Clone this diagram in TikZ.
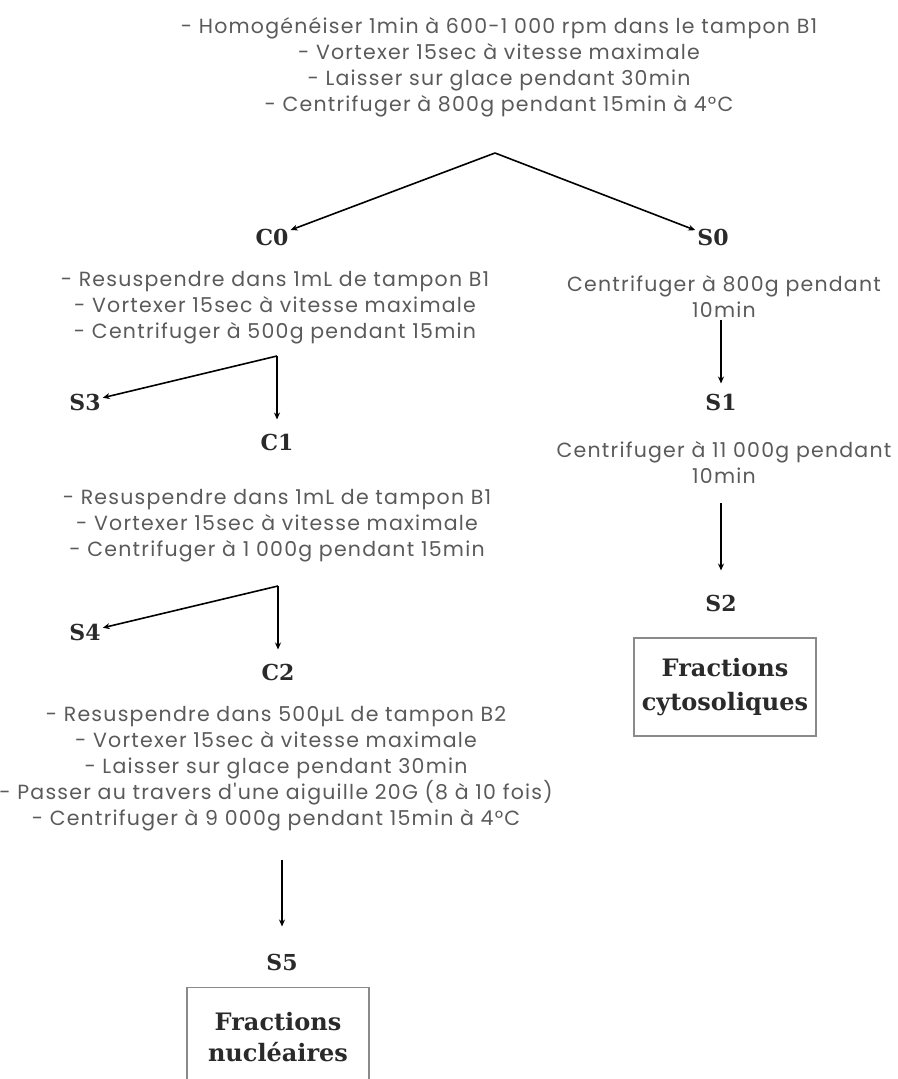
\documentclass[tikz,border=0pt]{standalone}
\usepackage{fontspec}
\usetikzlibrary{arrows.meta}
\newfontfamily\txtfont[LetterSpace=6]{Poppins}
\newfontfamily\lblfont{DejaVu Serif}
\definecolor{txtgray}{HTML}{5A5A5A}
\definecolor{lbldark}{HTML}{2A2A2A}
\definecolor{boxgray}{HTML}{8A8A8A}
\begin{document}
\begin{tikzpicture}[x=1pt,y=-1pt,
  steptext/.style={align=center,text=txtgray,font=\txtfont\fontsize{20.5}{26}\selectfont,inner sep=0pt},
  lbl/.style={text=lbldark,font=\lblfont\bfseries\fontsize{22}{24}\selectfont,inner sep=2pt},
  resbox/.style={draw=boxgray,line width=1.3pt,minimum width=182pt,align=center,text=lbldark,font=\lblfont\bfseries\fontsize{24}{34}\selectfont},
  arr/.style={-{Stealth[length=7pt,width=6pt]},line width=1.6pt,black}]
\useasboundingbox (0,0) rectangle (897,1079);
% top
\node[steptext] (top) at (499,67) {- Homogénéiser 1min à 600-1 000 rpm dans le tampon B1\\- Vortexer 15sec à vitesse maximale\\- Laisser sur glace pendant 30min\\- Centrifuger à 800g pendant 15min à 4°C};
\coordinate (apex) at (495,153);
\node[lbl] (C0) at (272,237) {C0};
\node[lbl] (S0) at (713,237) {S0};
\draw[arr] (apex) -- (C0);
\draw[arr] (apex) -- (S0);
% left branch
\node[steptext] (t0) at (275,308) {- Resuspendre dans 1mL de tampon B1\\- Vortexer 15sec à vitesse maximale\\- Centrifuger à 500g pendant 15min};
\coordinate (k1) at (277,356);
\node[lbl] (S3) at (85,402) {S3};
\node[lbl] (C1) at (277,442) {C1};
\draw[arr] (k1) -- (S3);
\draw[arr,shorten >=12pt] (k1) -- (C1);
\node[steptext] (t1) at (277,526) {- Resuspendre dans 1mL de tampon B1\\- Vortexer 15sec à vitesse maximale\\- Centrifuger à 1 000g pendant 15min};
\coordinate (k2) at (278,586);
\node[lbl] (S4) at (85,632) {S4};
\node[lbl] (C2) at (278,672) {C2};
\draw[arr] (k2) -- (S4);
\draw[arr,shorten >=12pt] (k2) -- (C2);
\node[steptext] (t2) at (276,769) {- Resuspendre dans 500µL de tampon B2\\- Vortexer 15sec à vitesse maximale\\- Laisser sur glace pendant 30min\\- Passer au travers d'une aiguille 20G (8 à 10 fois)\\- Centrifuger à 9 000g pendant 15min à 4°C};
\node[lbl] (S5) at (282,962) {S5};
\draw[arr,shorten <=28pt,shorten >=25pt] (t2.south -| S5) -- (S5);
\node[resbox,minimum height=110pt,anchor=north] (B5) at (278,987) {};
\node[text=lbldark,font=\lblfont\bfseries\fontsize{24}{31}\selectfont,align=center] (B5t) at (278,1037) {Fractions\\nucléaires};
% right branch
\node[steptext] (ts0) at (724,296) {Centrifuger à 800g pendant\\10min};
\node[lbl] (S1) at (721,402) {S1};
\draw[arr,shorten <=3pt,shorten >=8pt] (ts0.south -| S1) -- (S1);
\node[steptext] (ts1) at (724,462) {Centrifuger à 11 000g pendant\\10min};
\node[lbl] (S2) at (721,603) {S2};
\draw[arr,shorten <=20pt,shorten >=22pt] (ts1.south -| S2) -- (S2);
\node[resbox,minimum height=98pt,inner sep=1pt] (B2) at (725,687) {Fractions\\cytosoliques};
\end{tikzpicture}
\end{document}
